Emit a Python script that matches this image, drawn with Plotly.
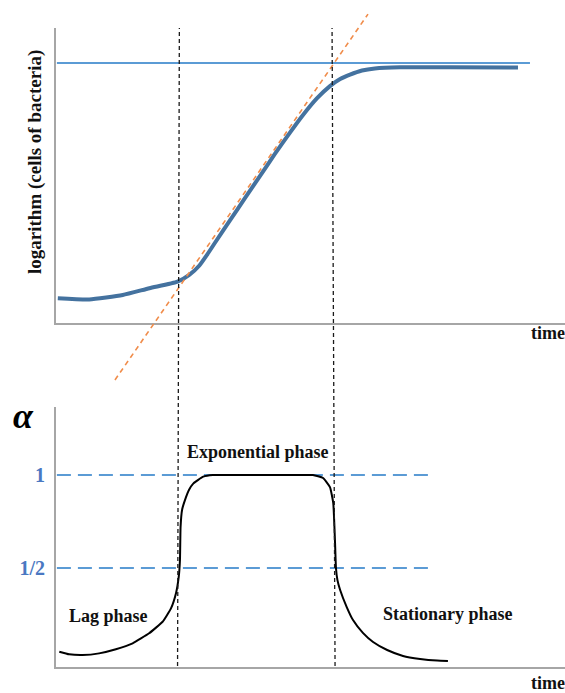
import plotly.graph_objects as go

# ---------------- data ----------------
# top panel: logarithm of cell count vs time
growth_t = [0.06, 1.11, 2.23, 3.12, 4.06, 4.45, 4.79, 5.05, 5.31, 5.81, 6.31, 6.81, 7.31,
            7.82, 8.25, 8.72, 9.15, 9.49, 9.82, 10.22, 10.65, 11.49, 13.16, 15.43]
growth_v = [0.84, 0.80, 0.95, 1.18, 1.40, 1.63, 1.95, 2.32, 2.72, 3.48, 4.23, 4.98, 5.73,
            6.46, 7.05, 7.62, 8.03, 8.27, 8.42, 8.56, 8.63, 8.67, 8.67, 8.66]
capacity_t = [0.03, 15.83]
capacity_v = [8.81, 8.81]
tangent_t = [1.97, 10.42]
tangent_v = [-1.93, 10.47]

# bottom panel: alpha vs time
alpha_t = [0.11, 0.44, 0.89, 1.44, 2.00, 2.56, 3.11, 3.56, 3.84, 4.01, 4.10, 4.14, 4.16,
           4.21, 4.31, 4.44, 4.59, 4.92, 5.24, 6.50, 8.00, 8.58, 8.92, 9.15, 9.26, 9.32,
           9.35, 9.40, 9.49, 9.71, 9.92, 10.25, 10.59, 11.06, 11.59, 12.16, 12.73, 13.09]
alpha_v = [0.050, 0.036, 0.032, 0.041, 0.063, 0.095, 0.149, 0.211, 0.283, 0.366, 0.453,
           0.543, 0.720, 0.812, 0.866, 0.919, 0.955, 0.991, 1.0, 1.0, 1.0, 1.0, 0.984,
           0.935, 0.849, 0.634, 0.500, 0.435, 0.382, 0.290, 0.220, 0.151, 0.102, 0.059,
           0.027, 0.011, 0.002, 0.0]
ref_one_t = [0.03, 12.49]
ref_one_v = [1.0, 1.0]
ref_half_t = [0.03, 12.56]
ref_half_v = [0.5, 0.5]
alpha_ticks = [0.5, 1.0]
alpha_ticktext = ["1/2", "1"]

# phase boundaries (bottom, top)
lag_end = [4.06, 4.12]
exp_end = [9.32, 9.22]

phase_labels = ["Lag phase", "Exponential phase", "Stationary phase"]

# ---------------- figure ----------------
W, H = 565, 693
SERIF = "Liberation Serif"
X_DOM = [56 / W, 1.0]

fig = go.Figure()

fig.add_trace(go.Scatter(x=capacity_t, y=capacity_v, mode="lines",
                         line=dict(color="#5b9bd5", width=2),
                         xaxis="x", yaxis="y", hoverinfo="skip"))
fig.add_trace(go.Scatter(x=growth_t, y=growth_v, mode="lines",
                         line=dict(color="#44729f", width=4, shape="spline", smoothing=0.5),
                         xaxis="x", yaxis="y", hoverinfo="skip"))

fig.add_trace(go.Scatter(x=ref_one_t, y=ref_one_v, mode="lines",
                         line=dict(color="#5b9bd5", width=2, dash="14px,7px"),
                         xaxis="x2", yaxis="y2", hoverinfo="skip"))
fig.add_trace(go.Scatter(x=ref_half_t, y=ref_half_v, mode="lines",
                         line=dict(color="#5b9bd5", width=2, dash="14px,7px"),
                         xaxis="x2", yaxis="y2", hoverinfo="skip"))
fig.add_trace(go.Scatter(x=alpha_t, y=alpha_v, mode="lines",
                         line=dict(color="#000000", width=2, shape="spline", smoothing=0.4),
                         xaxis="x2", yaxis="y2", hoverinfo="skip"))

# tangent drawn on an overlay axis pair spanning the full page height (same scale as top panel)
fig.add_trace(go.Scatter(x=tangent_t, y=tangent_v, mode="lines",
                         line=dict(color="#f08c4a", width=1.6, dash="5px,4px"),
                         xaxis="x3", yaxis="y3", hoverinfo="skip"))

axis_common = dict(showgrid=False, zeroline=False, ticks="", showline=True,
                   linecolor="#a6a6a6", linewidth=2, fixedrange=True)

top_dom = [(H - 323) / H, (H - 28) / H]
bot_dom = [(H - 667) / H, (H - 407) / H]

fig.update_layout(
    width=W, height=H,
    margin=dict(l=0, r=0, t=0, b=0),
    paper_bgcolor="white", plot_bgcolor="rgba(0,0,0,0)",
    showlegend=False,
    xaxis=dict(domain=X_DOM, range=[0, 17], anchor="y", showticklabels=False, **axis_common),
    yaxis=dict(domain=top_dom, range=[0, 10], anchor="x", showticklabels=False, **axis_common),
    xaxis2=dict(domain=X_DOM, range=[0, 17], anchor="y2", showticklabels=False, **axis_common),
    yaxis2=dict(domain=bot_dom, range=[-0.0323, 1.3656], anchor="x2",
                tickvals=alpha_ticks, ticktext=alpha_ticktext, ticklabelstandoff=5,
                tickfont=dict(family=SERIF, size=20, color="#4a78c2", weight="bold"),
                **axis_common),
    xaxis3=dict(domain=X_DOM, range=[0, 17], anchor="y3", visible=False, fixedrange=True),
    yaxis3=dict(domain=[0, 1], range=[(323 - H) / 29.5, 323 / 29.5], anchor="x3",
                visible=False, fixedrange=True),
)

# vertical phase boundaries spanning both panels
for xb, xt in (lag_end, exp_end):
    fig.add_shape(type="line", xref="x", yref="paper", x0=xb, x1=xt,
                  y0=(H - 666) / H, y1=(H - 28) / H,
                  line=dict(color="#1a1a1a", width=1.3, dash="4px,3px"), layer="above")

def ann(text, x, y, size=18, xanchor="center", yanchor="middle", **kw):
    fig.add_annotation(text=text, xref="paper", yref="paper", x=x / W, y=1 - y / H,
                       xanchor=xanchor, yanchor=yanchor, showarrow=False,
                       font=dict(family=SERIF, size=size, color="#111111", weight="bold"), **kw)

ann("logarithm (cells of bacteria)", 35, 162, size=19, textangle=-90)
ann("time", 529, 333, xanchor="left")
ann("time", 529, 683, xanchor="left")
ann(phase_labels[1], 258, 452)
ann(phase_labels[0], 108, 616)
ann(phase_labels[2], 448, 614)
fig.add_annotation(text="<i>α</i>", xref="paper", yref="paper", x=11 / W, y=1 - 416 / H,
                   xanchor="left", yanchor="middle", showarrow=False,
                   font=dict(family=SERIF, size=36, color="#000000", weight="bold"))

fig.write_html("out.html")
